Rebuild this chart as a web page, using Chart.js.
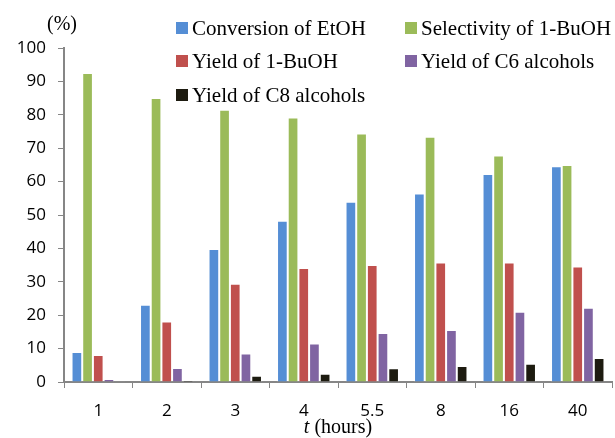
<!DOCTYPE html>
<html>
<head>
<meta charset="utf-8">
<script src="https://cdn.jsdelivr.net/npm/chart.js@4"></script>
<style>
  html, body { margin: 0; padding: 0; background: #fff; }
  #wrap { width: 615px; height: 438px; position: relative; }
</style>
</head>
<body>
<div id="wrap"><canvas id="myChart"></canvas></div>
<script>
const hours = ["1", "2", "3", "4", "5.5", "8", "16", "40"];
const conversionEtOH = [9.0, 23.1, 39.8, 48.3, 54.0, 56.4, 62.3, 64.6];
const selectivityBuOH = [92.5, 85.0, 81.5, 79.2, 74.4, 73.4, 67.8, 65.0];
const yieldBuOH = [8.1, 18.1, 29.4, 34.1, 35.0, 35.8, 35.8, 34.6];
const yieldC6 = [0.9, 4.2, 8.5, 11.5, 14.7, 15.6, 21.0, 22.2];
const yieldC8 = [0.1, 0.5, 1.9, 2.5, 4.1, 4.8, 5.5, 7.2];
const yTicks = [0, 10, 20, 30, 40, 50, 60, 70, 80, 90, 100];

const seriesNames = ["Conversion of EtOH", "Selectivity of 1-BuOH", "Yield of 1-BuOH", "Yield of C6 alcohols", "Yield of C8 alcohols"];
const seriesColors = ["#558ED5", "#9BBB59", "#C0504D", "#8064A2", "#1D1B10"];
const seriesData = [conversionEtOH, selectivityBuOH, yieldBuOH, yieldC6, yieldC8];

const axisGray = "#868686";
const serif = "'Liberation Serif', 'Times New Roman', serif";

// legend inside the plot, "(%)" label and the x title with italic t
const extras = {
    id: "extras",
    afterDraw(chart) {
        const ctx = chart.ctx;
        ctx.save();
        ctx.textBaseline = "middle";
        ctx.textAlign = "left";
        ctx.font = "21px " + serif;
        ctx.fillStyle = "#000";

        const cols = [176, 405];
        const rows = [28, 61, 95];
        chart.data.datasets.forEach(function (ds, i) {
            const x = cols[i % 2];
            const y = rows[Math.floor(i / 2)];
            ctx.fillStyle = ds.backgroundColor;
            ctx.fillRect(x, y - 6, 12, 12);
            ctx.fillStyle = "#000";
            ctx.fillText(ds.label, x + 16, y + 1);
        });

        ctx.font = "20px " + serif;
        ctx.textAlign = "center";
        ctx.fillText("(%)", 62, 25);

        // x axis title
        const area = chart.chartArea;
        const cx = (area.left + area.right) / 2;
        ctx.font = "italic 20px " + serif;
        const tW = ctx.measureText("t ").width;
        ctx.font = "20px " + serif;
        const rW = ctx.measureText("(hours)").width;
        const startX = cx - (tW + rW) / 2;
        ctx.textAlign = "left";
        ctx.font = "italic 20px " + serif;
        ctx.fillText("t", startX, 428);
        ctx.font = "20px " + serif;
        ctx.fillText("(hours)", startX + tW, 428);
        ctx.restore();
    }
};

new Chart("myChart", {
    type: "bar",
    data: {
        labels: hours,
        datasets: seriesNames.map(function (name, i) {
            return {
                label: name,
                data: seriesData[i],
                backgroundColor: seriesColors[i],
                borderColor: "rgba(255,255,255,0.45)",
                borderWidth: 1,
                categoryPercentage: 0.78,
                barPercentage: 1.0
            };
        })
    },
    options: {
        responsive: true,
        maintainAspectRatio: false,
        animation: false,
        layout: { padding: { top: 48, right: 3, left: 0, bottom: 0 } },
        plugins: {
            legend: { display: false },
            tooltip: { enabled: false }
        },
        scales: {
            x: {
                afterFit: function (scale) { scale.height = 56; },
                grid: { drawOnChartArea: false, drawTicks: true, tickLength: 6, color: axisGray, offset: true },
                border: { color: axisGray, width: 2 },
                ticks: { color: "#000", padding: 13, font: { family: "'Open Sans', sans-serif", size: 17 } }
            },
            y: {
                min: 0,
                max: 100,
                afterFit: function (scale) { scale.width = 64; },
                afterBuildTicks: function (scale) { scale.ticks = yTicks.map(function (v) { return { value: v }; }); },
                grid: { drawOnChartArea: false, drawTicks: true, tickLength: 6, color: axisGray },
                border: { color: axisGray, width: 2 },
                ticks: { color: "#000", padding: 12, font: { family: "'Open Sans', sans-serif", size: 17 } }
            }
        }
    },
    plugins: [extras]
});
</script>
</body>
</html>
